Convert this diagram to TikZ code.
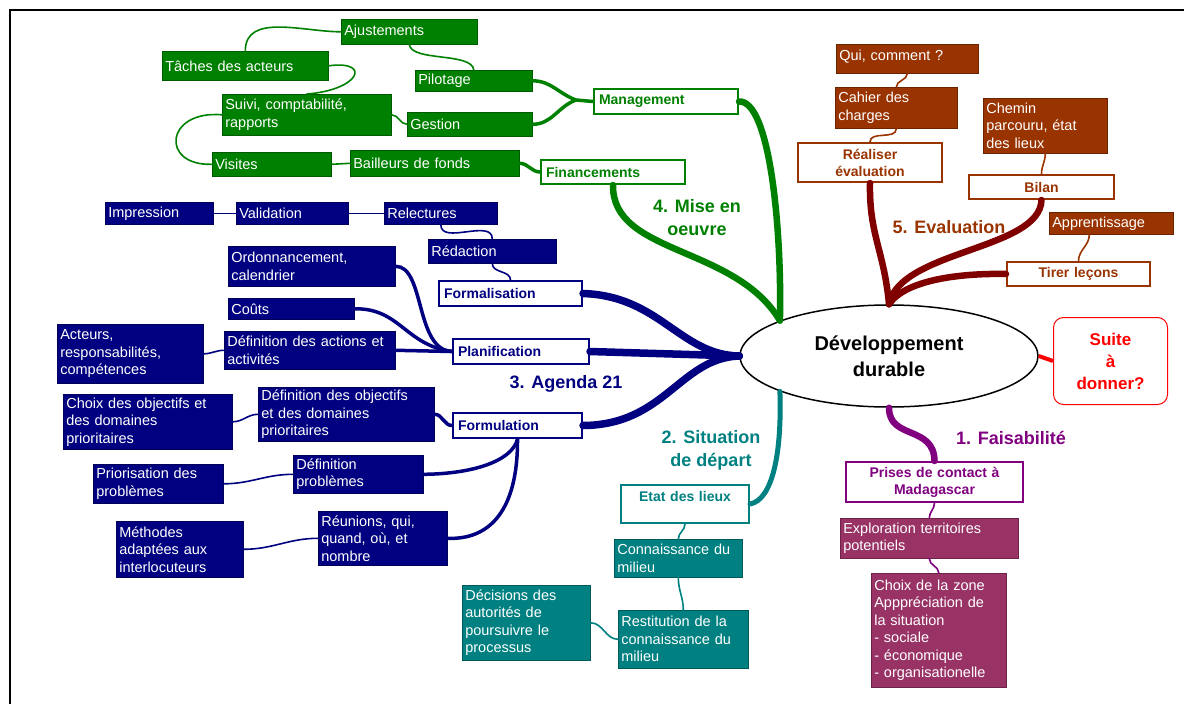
\documentclass[tikz,border=0pt]{standalone}
\usepackage{fontspec}
\setmainfont{Liberation Sans}
\usetikzlibrary{shapes.geometric}
\definecolor{mgreen}{RGB}{0,128,0}
\definecolor{mbrown}{RGB}{153,51,0}
\definecolor{mdarkred}{RGB}{128,0,0}
\definecolor{mnavy}{RGB}{0,0,128}
\definecolor{mteal}{RGB}{0,128,128}
\definecolor{mpurple}{RGB}{128,0,128}
\definecolor{mplum}{RGB}{153,51,102}
\definecolor{mred}{RGB}{255,0,0}
\begin{document}
\begin{tikzpicture}[x=1pt,y=-1pt,
    leaf/.style={draw=#1!70!black,fill=#1,text=white,line width=0.6pt,anchor=north west,align=left,
      inner xsep=3pt,inner ysep=1pt,font=\fontsize{14.5}{17.5}\selectfont},
    head/.style={draw=#1,fill=white,text=#1,line width=2pt,anchor=north west,align=left,
      inner xsep=5pt,inner ysep=1pt,font=\bfseries\fontsize{14}{17}\selectfont},
    wh/.style 2 args={text width=#1pt,minimum height=#2pt},
    lab/.style={text=#1,align=center,font=\bfseries\fontsize{18}{23}\selectfont},
    trunk/.style={draw=#1,line width=6.5pt,line cap=round},
    twig/.style={draw=#1,line width=3.5pt,line cap=round},
    wire/.style={draw=#1,line width=1.6pt,line cap=round}]
  \useasboundingbox (0,0) rectangle (1184,704);
  \draw[line width=2pt] (10,704) -- (10,10) -- (1184,10);
  \node[draw,ellipse,line width=1.5pt,minimum width=298pt,minimum height=102pt,inner sep=0pt,align=center,
    font=\bfseries\fontsize{20}{26}\selectfont] (ell) at (889,356) {Développement\\durable};
  \node[draw=mred,text=mred,line width=1pt,rounded corners=10pt,anchor=north west,minimum width=114pt,
    minimum height=87pt,align=center,font=\bfseries\fontsize{17}{22}\selectfont] (suite) at (1053,317) {Suite\\à\\donner?};
  \draw[mred,line width=4pt] (ell.east) -- (suite.west);
  % 4. Mise en oeuvre
  \node[leaf=mgreen,wh={130}{25}] (ajust) at (341,19) {Ajustements};
  \node[leaf=mgreen,wh={160}{29}] (taches) at (162,51) {Tâches des acteurs};
  \node[leaf=mgreen,wh={111}{21}] (pilot) at (415,70) {Pilotage};
  \node[leaf=mgreen,wh={163}{41}] (suivi) at (222,94) {Suivi, comptabilité,\\rapports};
  \node[leaf=mgreen,wh={119}{24}] (gestion) at (407,112) {Gestion};
  \node[leaf=mgreen,wh={113}{24}] (visites) at (212,152) {Visites};
  \node[leaf=mgreen,wh={163}{26}] (bailleurs) at (350,150) {Bailleurs de fonds};
  \node[head=mgreen,wh={134}{25}] (manag) at (593,88) {Management};
  \node[head=mgreen,wh={134}{24}] (financ) at (540,159) {Financements};
  \node[lab=mgreen] (misel) at (697,218) {4. Mise en\\oeuvre};
  \coordinate (gfork) at (576,100);
  \draw[trunk=mgreen] (manag.east) .. controls (770,100) and (782,230) .. (ell.162);
  \draw[trunk=mgreen] (financ.south) .. controls (612,255) and (735,245) .. (ell.162);
  \draw[twig=mgreen] (manag.west) -- (gfork) to[out=160,in=0] (pilot.east);
  \draw[twig=mgreen] (gfork) to[out=200,in=0] (gestion.east);
  \draw[twig=mgreen] (bailleurs.east) to[out=0,in=180] (financ.west);
  \draw[wire=mgreen] (pilot.north) .. controls (472,52) and (412,62) .. (ajust.south);
  \draw[wire=mgreen] (ajust.west) to[out=180,in=90] (taches.north);
  \draw[wire=mgreen] (taches.east) .. controls (372,60) and (360,90) .. (suivi.north);
  \draw[wire=mgreen] (suivi.east) to[out=0,in=180] (gestion.west);
  \draw[wire=mgreen] (suivi.west) .. controls (165,110) and (160,166) .. (visites.west);
  \draw[wire=mgreen] (visites.east) -- (bailleurs.west);
  % 5. Evaluation
  \node[leaf=mbrown,wh={136}{29},text depth=8pt] (qui) at (836,44) {Qui, comment~?};
  \node[leaf=mbrown,wh={116}{41}] (cahier) at (835,87) {Cahier des\\charges};
  \node[leaf=mbrown,wh={118}{55}] (chemin) at (983,98) {Chemin\\parcouru, état\\des lieux};
  \node[leaf=mbrown,wh={118}{22}] (apprent) at (1049,212) {Apprentissage};
  \node[head=mbrown,wh={134}{39},align=center] (realiser) at (797,142) {Réaliser\\évaluation};
  \node[head=mbrown,wh={135}{24},align=center] (bilan) at (968,174) {Bilan};
  \node[head=mbrown,wh={133}{24},align=center] (tirer) at (1006,261) {Tirer leçons};
  \node[lab=mbrown] (evall) at (949,227) {5. Evaluation};
  \draw[trunk=mdarkred] (ell.north) .. controls (884,250) and (869,235) .. (realiser.south);
  \draw[trunk=mdarkred] (ell.north) .. controls (900,250) and (1040,250) .. (bilan.south);
  \draw[trunk=mdarkred] (ell.north) .. controls (905,280) and (960,273) .. (tirer.west);
  \draw[wire=mbrown] (qui.south) to[out=-90,in=90] (cahier.north);
  \draw[wire=mbrown] (cahier.south) to[out=-90,in=90] (realiser.north);
  \draw[wire=mbrown] (chemin.south) to[out=-90,in=90] (bilan.north);
  \draw[wire=mbrown] ([xshift=-22pt]apprent.south) to[out=-90,in=90] (tirer.north);
  % 3. Agenda 21
  \node[leaf=mnavy,wh={102}{22}] (impr) at (105,202) {Impression};
  \node[leaf=mnavy,wh={106}{22}] (valid) at (236,202) {Validation};
  \node[leaf=mnavy,wh={107}{22}] (relect) at (384,202) {Relectures};
  \node[leaf=mnavy,wh={122}{24}] (redac) at (428,239) {Rédaction};
  \node[leaf=mnavy,wh={161}{40}] (ordon) at (228,246) {Ordonnancement,\\calendrier};
  \node[leaf=mnavy,wh={120}{21}] (couts) at (228,298) {Coûts};
  \node[leaf=mnavy,wh={140}{59}] (acteurs) at (57,324) {Acteurs,\\responsabilités,\\compétences};
  \node[leaf=mnavy,wh={165}{38}] (defact) at (224,331) {Définition des actions et\\activités};
  \node[leaf=mnavy,wh={163}{55}] (choix) at (63,394) {Choix des objectifs et\\des domaines\\prioritaires};
  \node[leaf=mnavy,wh={170}{54}] (defobj) at (258,387) {Définition des objectifs\\et des domaines\\prioritaires};
  \node[leaf=mnavy,wh={124}{39}] (prior) at (93,464) {Priorisation des\\problèmes};
  \node[leaf=mnavy,wh={124}{38}] (defprob) at (293,455) {Définition\\problèmes};
  \node[leaf=mnavy,wh={121}{56}] (method) at (116,521) {Méthodes\\adaptées aux\\interlocuteurs};
  \node[leaf=mnavy,wh={123}{54}] (reunion) at (318,511) {Réunions, qui,\\quand, où, et\\nombre};
  \node[head=mnavy,wh={133}{25}] (formal) at (438,280) {Formalisation};
  \node[head=mnavy,wh={126}{25}] (planif) at (452,338) {Planification};
  \node[head=mnavy,wh={119}{25}] (formul) at (452,412) {Formulation};
  \node[lab=mnavy] (agendal) at (566,384) {3. Agenda 21};
  \draw[trunk=mnavy,line width=7.5pt] (ell.west) .. controls (680,355) and (660,296) .. (formal.east);
  \draw[trunk=mnavy,line width=7.5pt] (ell.west) -- (planif.east);
  \draw[trunk=mnavy,line width=7.5pt] (ell.west) .. controls (680,358) and (665,425) .. (formul.east);
  \draw[twig=mnavy] (planif.west) .. controls (415,350) and (425,266) .. (ordon.east);
  \draw[twig=mnavy] (planif.west) .. controls (405,345) and (400,308) .. (couts.east);
  \draw[twig=mnavy] (planif.west) -- (defact.east);
  \draw[twig=mnavy] (formul.west) to[out=180,in=0] (defobj.east);
  \draw[twig=mnavy] (formul.south) .. controls (512,462) and (470,474) .. (defprob.east);
  \draw[twig=mnavy] (formul.south) .. controls (518,510) and (490,540) .. (reunion.east);
  \draw[wire=mnavy] (impr.east) -- (valid.west);
  \draw[wire=mnavy] (valid.east) -- (relect.west);
  \draw[wire=mnavy] (relect.south) to[out=-90,in=90] (redac.north);
  \draw[wire=mnavy] (redac.south) to[out=-90,in=90] (formal.north);
  \draw[wire=mnavy] (acteurs.east) to[out=0,in=180] (defact.west);
  \draw[wire=mnavy] (choix.east) to[out=0,in=180] (defobj.west);
  \draw[wire=mnavy] (prior.east) to[out=0,in=180] (defprob.west);
  \draw[wire=mnavy] (method.east) to[out=0,in=180] (reunion.west);
  % 2. Situation de depart
  \node[head=mteal,wh={118}{38},align=center,text depth=16pt] (etat) at (620,484) {Etat des lieux};
  \node[leaf=mteal,wh={122}{38}] (connais) at (614,539) {Connaissance du\\milieu};
  \node[leaf=mteal,wh={122}{75}] (decis) at (462,585) {Décisions des\\autorités de\\poursuivre le\\processus};
  \node[leaf=mteal,wh={124}{58}] (restit) at (618,610) {Restitution de la\\connaissance du\\milieu};
  \node[lab=mteal] (sitl) at (711,450) {2. Situation\\de départ};
  \draw[trunk=mteal,line width=5pt] (ell.198) .. controls (782,455) and (772,500) .. (etat.east);
  \draw[wire=mteal] (etat.south) to[out=-90,in=90] (connais.north);
  \draw[wire=mteal] (connais.south) to[out=-90,in=90] (restit.north);
  \draw[wire=mteal] (decis.east) to[out=0,in=180] (restit.west);
  % 1. Faisabilite
  \node[head=mpurple,wh={167}{40},align=center] (prises) at (845,461) {Prises de contact à\\Madagascar};
  \node[leaf=mplum,wh={172}{40}] (explor) at (840,518) {Exploration territoires\\potentiels};
  \node[leaf=mplum,wh={129}{114}] (choixz) at (871,573) {Choix de la zone\\Apppréciation de\\la situation\\- sociale\\- économique\\- organisationelle};
  \node[lab=mpurple] (faisl) at (1011,438) {1. Faisabilité};
  \draw[trunk=mpurple] (ell.south) .. controls (889,440) and (934,425) .. (prises.north);
  \draw[wire=mpurple] (prises.south) to[out=-90,in=90] (explor.north);
  \draw[wire=mpurple] (explor.south) to[out=-90,in=90] (choixz.north);
\end{tikzpicture}
\end{document}
